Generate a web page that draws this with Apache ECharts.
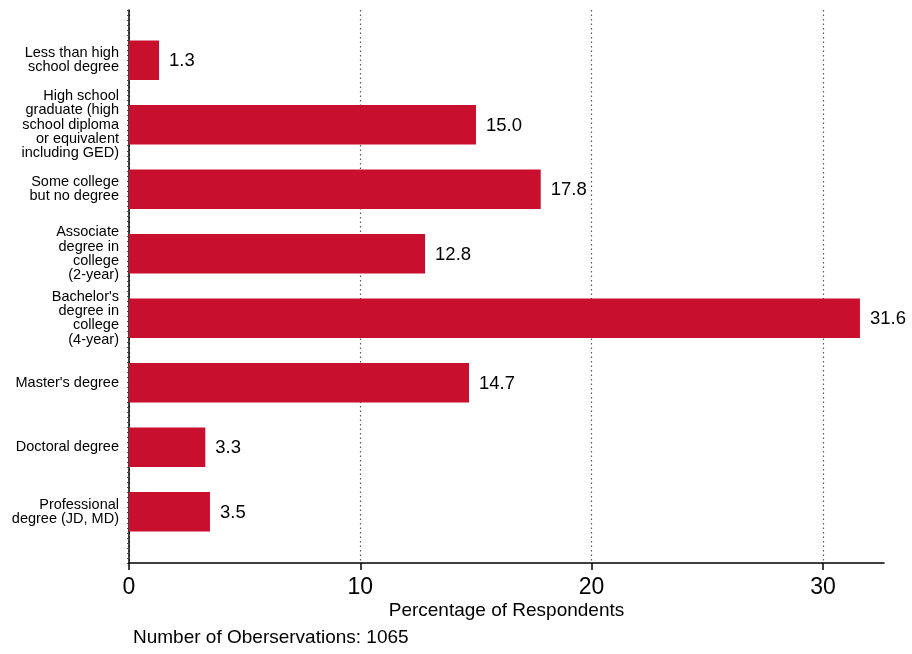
<!DOCTYPE html>
<html>
<head>
<meta charset="utf-8">
<script src="https://cdn.jsdelivr.net/npm/echarts@6/dist/echarts.min.js"></script>
<style>html,body{margin:0;padding:0;background:#fff;}#c{width:912px;height:654px;}</style>
</head>
<body>
<div id="c"></div>
<script>
var categories = [
  "Less than high\nschool degree",
  "High school\ngraduate (high\nschool diploma\nor equivalent\nincluding GED)",
  "Some college\nbut no degree",
  "Associate\ndegree in\ncollege\n(2-year)",
  "Bachelor's\ndegree in\ncollege\n(4-year)",
  "Master's degree",
  "Doctoral degree",
  "Professional\ndegree (JD, MD)"
];
var values = [1.3, 15.0, 17.8, 12.8, 31.6, 14.7, 3.3, 3.5];
var xTicks = [0, 10, 20, 30];
var xTitle = "Percentage of Respondents";
var footer = "Number of Oberservations: 1065";

var FONT = "Liberation Sans, Arial, sans-serif";
var XMAX = 32.64;
var chart = echarts.init(document.getElementById('c'), null, {renderer: 'canvas'});
chart.setOption({
  animation: false,
  backgroundColor: '#fff',
  textStyle: {fontFamily: FONT},
  grid: [
    {left: 129, right: 28, top: 10, bottom: 91},
    {left: 129, right: 28, top: 28, bottom: 110}
  ],
  xAxis: [
    {
      gridIndex: 0, type: 'value', min: 0, max: XMAX, interval: 10,
      axisLine: {show: true, lineStyle: {color: '#000', width: 1.5}},
      axisTick: {show: true, length: 7, lineStyle: {color: '#000', width: 1.5},
        customValues: xTicks},
      axisLabel: {color: '#000', fontSize: 23, fontFamily: FONT, margin: 13,
        customValues: xTicks,
        formatter: function (v) { return xTicks.indexOf(v) >= 0 ? String(v) : ''; }},
      splitLine: {show: true, lineStyle: {color: '#555', type: [1.5, 3], width: 1.2}}
    },
    {
      gridIndex: 1, type: 'value', min: 0, max: XMAX, show: false
    }
  ],
  yAxis: [
    {
      gridIndex: 0, type: 'value', min: 0, max: 550, interval: 5,
      axisLine: {show: true, lineStyle: {color: '#000', width: 1.5}},
      axisTick: {show: true, length: 2, lineStyle: {color: '#444', width: 1}},
      axisLabel: {show: false},
      splitLine: {show: false}
    },
    {
      gridIndex: 1, type: 'category', data: categories, inverse: true,
      axisLine: {show: false}, axisTick: {show: false},
      axisLabel: {color: '#000', fontSize: 14.5, lineHeight: 14.3, margin: 10,
        fontFamily: FONT, align: 'right', interval: 0}
    }
  ],
  series: [{
    type: 'bar', xAxisIndex: 1, yAxisIndex: 1, data: values,
    barCategoryGap: '39%',
    itemStyle: {color: '#C8102E'},
    label: {show: true, position: 'right', distance: 10, color: '#000',
      fontSize: 18.5, fontFamily: FONT, offset: [0, 1],
      formatter: function (p) { return p.value.toFixed(1); }}
  }],
  graphic: [
    {
      type: 'text', x: 506.5, y: 611,
      style: {text: xTitle, fontSize: 19, fontFamily: FONT, fill: '#000',
        align: 'center', verticalAlign: 'middle'}
    },
    {
      type: 'text', left: 133, top: 628,
      style: {text: footer, fontSize: 19, fontFamily: FONT, fill: '#000'}
    }
  ]
});
</script>
</body>
</html>
